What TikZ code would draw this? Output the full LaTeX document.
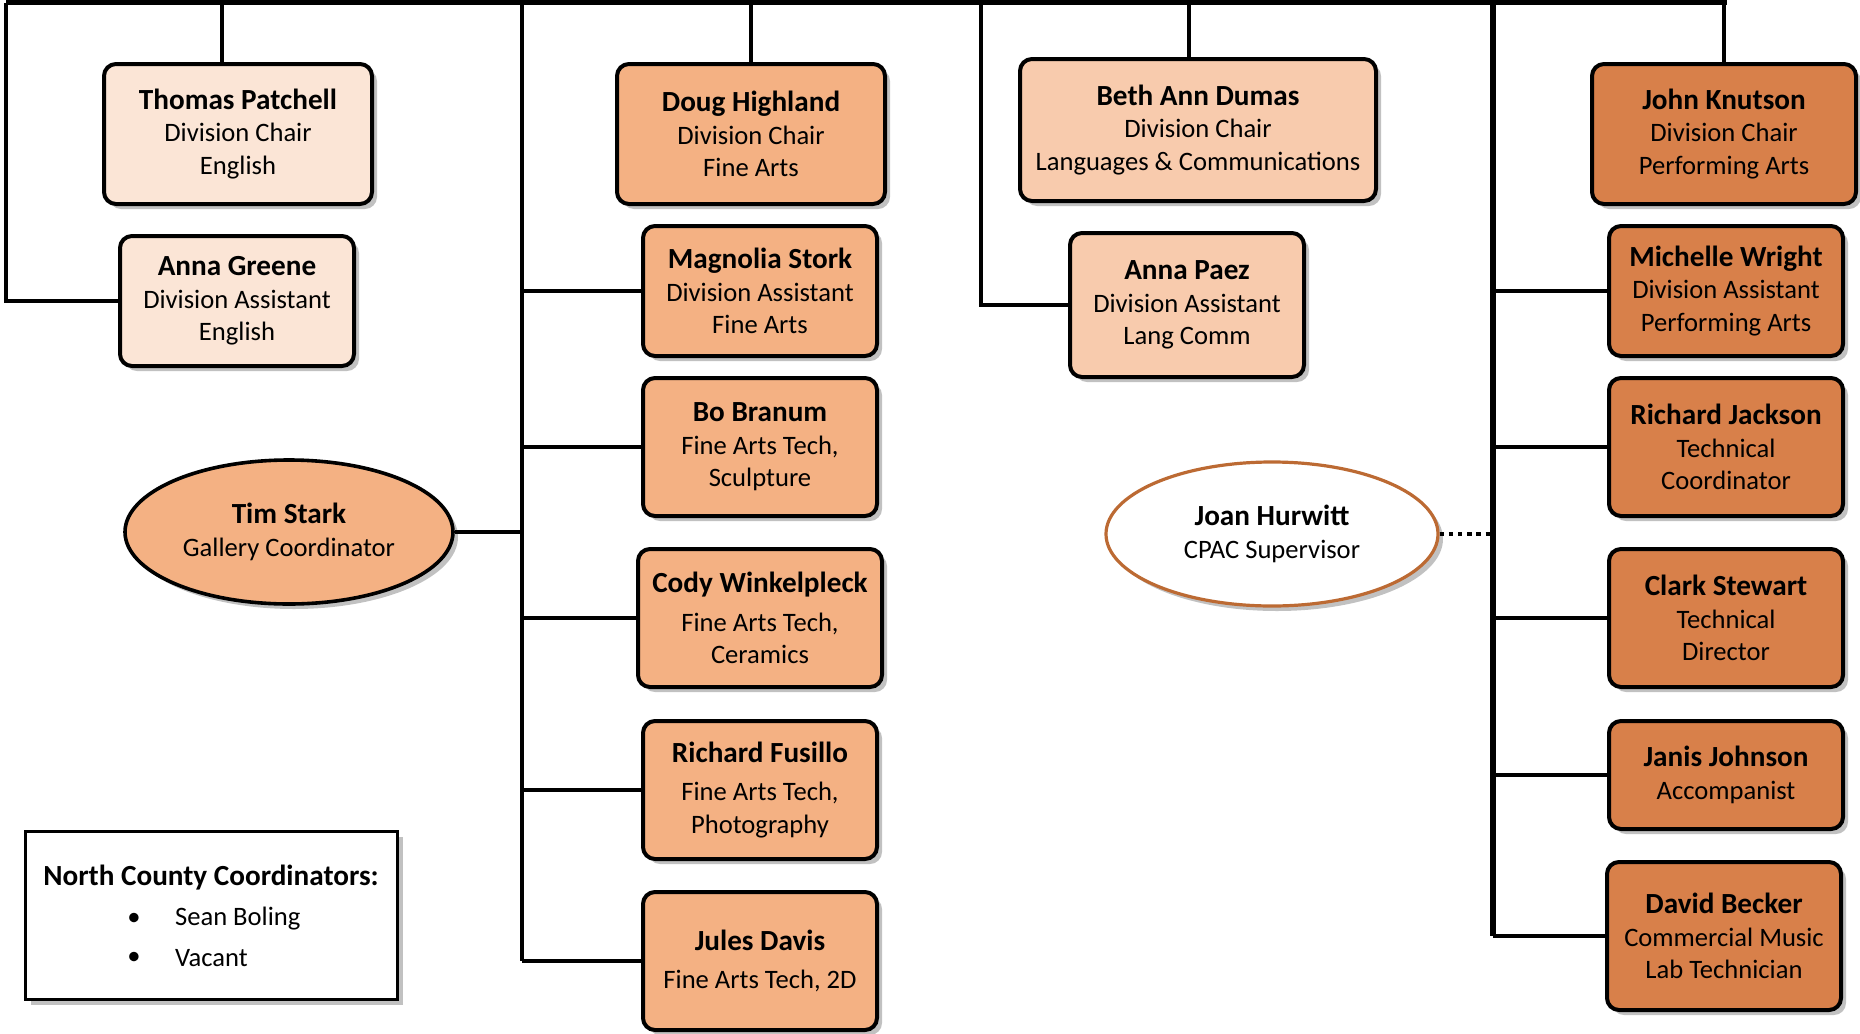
\documentclass[tikz,border=0pt]{standalone}
\usepackage{fontspec}
\setmainfont{Carlito}
\usetikzlibrary{shapes.geometric,shadows}

\definecolor{paleorange}{HTML}{FBE5D6}
\definecolor{lightorange}{HTML}{F8CBAD}
\definecolor{midorange}{HTML}{F4B183}
\definecolor{deeporange}{HTML}{D8804A}
\definecolor{rimorange}{HTML}{BC6A33}

\newcommand{\who}[1]{{\fontsize{14.6}{16.3}\selectfont\bfseries #1}}

\tikzset{
  shade/.style={drop shadow={shadow xshift=2.5pt,shadow yshift=-2.5pt,opacity=0.3,fill=black!80}},
  card/.style={draw=black,line width=2pt,rounded corners=6pt,align=center,inner sep=1pt,
    font=\fontsize{13.3}{16.3}\selectfont,shade},
  english/.style={card,fill=paleorange},
  langcomm/.style={card,fill=lightorange},
  finearts/.style={card,fill=midorange},
  perfarts/.style={card,fill=deeporange},
  oval/.style={ellipse,draw=black,line width=1.8pt,align=center,inner sep=0pt,
    font=\fontsize{13.3}{16.3}\selectfont,shade},
  link/.style={line width=1.8pt},
  toplink/.style={line width=2.6pt},
  dotlink/.style={line width=2.2pt,dash pattern=on 2.2pt off 2.4pt}
}

\begin{document}
\begin{tikzpicture}[x=0.5pt,y=-0.5pt]
\useasboundingbox (0,0) rectangle (1860,1034);

% English
\node[english,minimum width=134pt,minimum height=70pt] (thomas) at (238,134)
  {\who{Thomas Patchell}\\Division Chair\\English};
\node[english,minimum width=117pt,minimum height=65pt] (greene) at (237,301)
  {\who{Anna Greene}\\Division Assistant\\English};

% Fine Arts
\node[finearts,minimum width=134pt,minimum height=70pt] (doug) at (751,134)
  {\who{Doug Highland}\\Division Chair\\Fine Arts};
\node[finearts,minimum width=117pt,minimum height=65pt] (stork) at (760,291)
  {\who{Magnolia Stork}\\Division Assistant\\Fine Arts};
\node[finearts,minimum width=117pt,minimum height=69pt] (branum) at (760,447)
  {\who{Bo Branum}\\Fine Arts Tech,\\Sculpture};
\node[finearts,minimum width=122pt,minimum height=69pt] (cody) at (760,618)
  {\who{Cody Winkelpleck}\\[3pt]Fine Arts Tech,\\Ceramics};
\node[finearts,minimum width=117pt,minimum height=69pt] (fusillo) at (760,790)
  {\who{Richard Fusillo}\\[3pt]Fine Arts Tech,\\Photography};
\node[finearts,minimum width=117pt,minimum height=69pt] (jules) at (760,961)
  {\who{Jules Davis}\\[3pt]Fine Arts Tech, 2D};
\node[oval,fill=midorange,minimum width=164pt,minimum height=72pt] (tim) at (289,532)
  {\who{Tim Stark}\\Gallery Coordinator};

% Languages & Communications
\node[langcomm,minimum width=178pt,minimum height=71pt] (beth) at (1198,130)
  {\who{Beth Ann Dumas}\\Division Chair\\Languages \& Communications};
\node[langcomm,minimum width=117pt,minimum height=72pt] (paez) at (1187,305)
  {\who{Anna Paez}\\Division Assistant\\Lang Comm};

% Performing Arts
\node[perfarts,minimum width=132pt,minimum height=70pt] (john) at (1724,134)
  {\who{John Knutson}\\Division Chair\\Performing Arts};
\node[perfarts,minimum width=117pt,minimum height=65pt] (michelle) at (1726,291)
  {\who{Michelle Wright}\\Division Assistant\\Performing Arts};
\node[perfarts,minimum width=117pt,minimum height=69pt] (jackson) at (1726,447)
  {\who{Richard Jackson}\\Technical\\Coordinator};
\node[perfarts,minimum width=117pt,minimum height=69pt] (clark) at (1726,618)
  {\who{Clark Stewart}\\Technical\\Director};
\node[perfarts,minimum width=117pt,minimum height=54pt] (janis) at (1726,775)
  {\who{Janis Johnson}\\Accompanist};
\node[perfarts,minimum width=117pt,minimum height=74pt] (becker) at (1724,936)
  {\who{David Becker}\\Commercial Music\\Lab Technician};
\node[oval,draw=rimorange,fill=white,line width=1.6pt,minimum width=166pt,minimum height=72pt] (joan) at (1272,534)
  {\who{Joan Hurwitt}\\CPAC Supervisor};

% legend
\node[draw=black,line width=1.3pt,fill=white,shade,minimum width=186pt,minimum height=84pt] (legend) at (211.5,915.5) {};
\node[font=\fontsize{14.6}{16.3}\selectfont\bfseries] (legtitle) at (211,878) {North County Coordinators:};
\node[font=\fontsize{13.3}{16.3}\selectfont] (dot1) at (134,919) {•};
\node[font=\fontsize{13.3}{16.3}\selectfont,anchor=west] (sean) at (168,919) {Sean Boling};
\node[font=\fontsize{13.3}{16.3}\selectfont] (dot2) at (134,958) {•};
\node[font=\fontsize{13.3}{16.3}\selectfont,anchor=west] (vacant) at (168,958) {Vacant};

% connectors
\coordinate (tl) at (6,2.5);
\coordinate (tr) at (1727,2.5);
\coordinate (dThomas) at (222,2.5);
\coordinate (jA) at (522,2.5);
\coordinate (jB) at (981,2.5);
\coordinate (dBeth) at (1189,2.5);
\coordinate (jC) at (1493,2.5);

\draw[toplink] (tl) -- (tr);
\draw[link] (tl) |- (greene.west);
\draw[link] (dThomas) -- (dThomas |- thomas.north);
\draw[link] (jA) -- (jA |- jules.west);
\draw[link] (doug.north) -- (doug.north |- jA);
\foreach \n in {stork,branum,cody,fusillo,jules}
  \draw[link] (\n.west) -- (\n.west -| jA);
\draw[link] (tim.east) -- (tim.east -| jA);
\draw[link] (jB) |- (paez.west);
\draw[link] (dBeth) -- (dBeth |- beth.north);
\draw[toplink] (jC) -- (jC |- becker.west);
\draw[link] (john.north) -- (john.north |- jC);
\foreach \n in {michelle,jackson,clark,janis,becker}
  \draw[link] (\n.west) -- (\n.west -| jC);
\draw[dotlink] (joan.east) -- (joan.east -| jC);
\end{tikzpicture}
\end{document}
